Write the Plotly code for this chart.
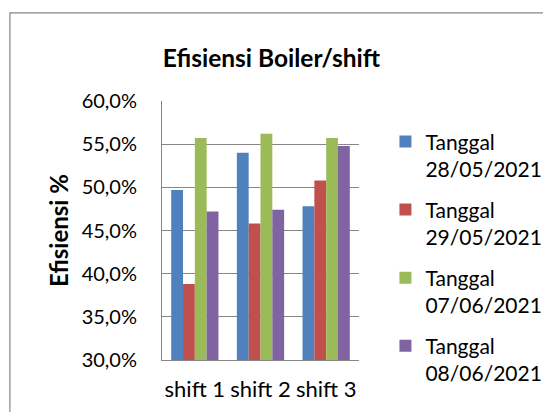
import plotly.graph_objects as go

categories = ["shift 1", "shift 2", "shift 3"]
series_names = ["Tanggal<br>28/05/2021", "Tanggal<br>29/05/2021",
                "Tanggal<br>07/06/2021", "Tanggal<br>08/06/2021"]
s_28_05 = [49.7, 54.0, 47.8]
s_29_05 = [38.8, 45.8, 50.8]
s_07_06 = [55.7, 56.2, 55.7]
s_08_06 = [47.2, 47.4, 54.8]
colors = ["#4F81BD", "#C0504D", "#9BBB59", "#8064A2"]
y_ticks = [30, 35, 40, 45, 50, 55, 60]
y_tick_text = ["30,0%", "35,0%", "40,0%", "45,0%", "50,0%", "55,0%", "60,0%"]

# page body has an 8px margin: figure pixel (x, y) shows at window (x+8, y+8)
W, H = 570, 404
L, T, B = 154, 92.7, 52
PW = 197.5
R = W - L - PW
PH = H - T - B
FONT = "Lato, Noto Sans, sans-serif"

def px_x(px):
    return (px - L) / PW

def px_y(py):
    return (H - B - py) / PH

fig = go.Figure()
for i, (name, vals) in enumerate(zip(series_names, [s_28_05, s_29_05, s_07_06, s_08_06])):
    fig.add_trace(go.Bar(
        x=categories, y=vals, name=name, marker_color=colors[i],
        marker_line_width=0, legendgroup=f"g{i}",
    ))

fig.update_layout(
    width=W, height=H,
    margin=dict(l=L, r=R, t=T, b=B, pad=0, autoexpand=False),
    paper_bgcolor="white", plot_bgcolor="white",
    barmode="group", bargap=0.28, bargroupgap=0,
    font=dict(family=FONT, size=20, color="#000000"),
    title=dict(text="<b>Efisiensi Boiler/shift</b>", x=263.5 / W, xanchor="center",
               y=1 - 50 / H, yanchor="middle", xref="container", yref="container",
               font=dict(family=FONT, size=24.5, color="#000000")),
    legend=dict(x=px_x(378), y=px_y(113), xanchor="left", yanchor="top",
                font=dict(family=FONT, size=21, color="#000000"),
                valign="top", tracegroupgap=10.5, itemwidth=30, maxheight=320,
                bgcolor="rgba(0,0,0,0)"),
    showlegend=True,
)
fig.update_xaxes(
    showline=True, linecolor="#868686", linewidth=1,
    ticks="outside", ticklen=10, tickcolor="rgba(0,0,0,0)", tickangle=0,
    automargin=False,
    tickfont=dict(family=FONT, size=22, color="#000000"),
    showgrid=False,
)
fig.update_yaxes(
    range=[30, 60], tickvals=y_ticks, ticktext=y_tick_text,
    showline=True, linecolor="#868686", linewidth=1,
    showgrid=True, gridcolor="#868686", gridwidth=1,
    ticks="outside", ticklen=20, tickcolor="rgba(0,0,0,0)",
    automargin=False,
    tickfont=dict(family=FONT, size=20, color="#000000"),
    title=dict(text="<b>Efisiensi %</b>", font=dict(family=FONT, size=24, color="#000000"),
               standoff=6),
    zeroline=False,
)
# chart border (top and left edges visible)
fig.add_shape(type="rect", xref="paper", yref="paper",
              x0=px_x(1.5), x1=px_x(600), y0=px_y(4.5), y1=px_y(430),
              line=dict(color="#868686", width=1.2), fillcolor="rgba(0,0,0,0)",
              layer="below")

fig.write_html("out.html")
